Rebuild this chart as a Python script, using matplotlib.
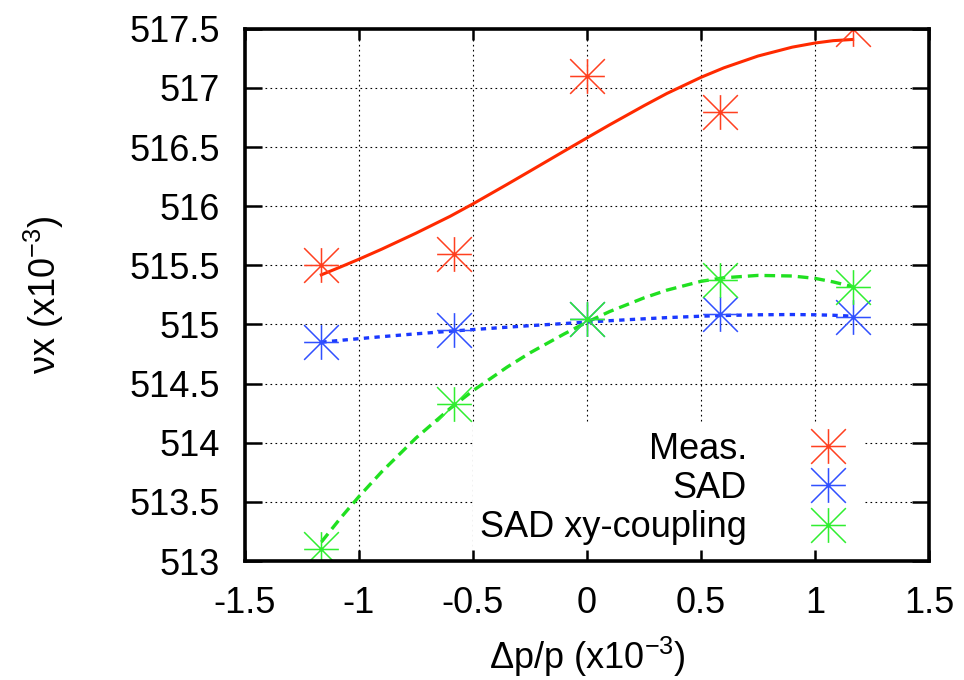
import matplotlib
matplotlib.use("Agg")
import matplotlib.pyplot as plt
from matplotlib.path import Path

plt.rcParams["font.family"] = ["Liberation Sans", "DejaVu Sans"]
plt.rcParams["mathtext.default"] = "regular"

# -----------------------------
# Data
# -----------------------------
dp = [-1.165, -0.582, 0.0, 0.582, 1.165]
meas = [515.50, 515.60, 517.10, 516.80, 517.50]
sad = [514.85, 514.95, 515.05, 515.09, 515.06]
sad_xy = [513.10, 514.33, 515.05, 515.38, 515.32]

# fitted curves
fit_x = [-1.165, -1.08, -1.0, -0.9, -0.75, -0.6, -0.5, -0.35, -0.25, -0.1, 0.0,
         0.1, 0.25, 0.35, 0.5, 0.6, 0.75, 0.9, 1.0, 1.08, 1.165]
meas_fit = [515.420, 515.487, 515.552, 515.637, 515.772, 515.915, 516.020, 516.185,
            516.297, 516.466, 516.578, 516.689, 516.850, 516.953, 517.090, 517.170,
            517.270, 517.345, 517.380, 517.400, 517.410]
sad_fit = [514.850, 514.866, 514.880, 514.897, 514.921, 514.943, 514.957, 514.977,
           514.990, 515.008, 515.020, 515.032, 515.048, 515.058, 515.070, 515.076,
           515.082, 515.084, 515.082, 515.078, 515.070]
sad_xy_fit = [513.160, 513.365, 513.545, 513.755, 514.040, 514.290, 514.440, 514.640,
              514.760, 514.920, 515.020, 515.110, 515.225, 515.290, 515.365, 515.395,
              515.415, 515.410, 515.390, 515.360, 515.320]

x_ticks = [-1.5, -1.0, -0.5, 0.0, 0.5, 1.0, 1.5]
x_ticklabels = ["-1.5", "-1", "-0.5", "0", "0.5", "1", "1.5"]
y_ticks = [513, 513.5, 514, 514.5, 515, 515.5, 516, 516.5, 517, 517.5]
y_ticklabels = ["513", "513.5", "514", "514.5", "515", "515.5", "516", "516.5", "517", "517.5"]

# gnuplot style point: "+" overlaid with "x"
star = Path(
    [(-1, 0), (1, 0), (0, -1), (0, 1), (-1, -1), (1, 1), (-1, 1), (1, -1)],
    [Path.MOVETO, Path.LINETO] * 4,
)

red_pt, red_ln = "#ff4020", "#ff2a00"
blue_pt, blue_ln = "#3050ff", "#1a38ff"
green_pt, green_ln = "#30ee30", "#20e020"

# -----------------------------
# Plot
# -----------------------------
fig = plt.figure(figsize=(9.64, 6.8), dpi=100)
ax = fig.add_axes([0.2541, 0.175, 0.7096, 0.7826])

for xv in x_ticks[1:-1]:
    ax.axvline(xv, color="black", lw=0.8, ls=(0, (1.5, 3)), zorder=0.5)
for yv in y_ticks[1:-1]:
    ax.axhline(yv, color="black", lw=0.8, ls=(0, (1.5, 3)), zorder=0.5)

ax.plot(fit_x, meas_fit, color=red_ln, lw=2.2, zorder=3)
ax.plot(fit_x, sad_fit, color=blue_ln, lw=2.4, ls=(0, (1.6, 1.6)), zorder=3)
ax.plot(fit_x, sad_xy_fit, color=green_ln, lw=2.4, ls=(0, (3.2, 1.8)), zorder=3)

ax.plot(dp, meas, ls="none", marker=star, ms=25, mew=1.1, color=red_pt,
        label="Meas.", zorder=4)
ax.plot(dp, sad, ls="none", marker=star, ms=25, mew=1.1, color=blue_pt,
        label="SAD", zorder=4)
ax.plot(dp, sad_xy, ls="none", marker=star, ms=25, mew=1.1, color=green_pt,
        label="SAD xy-coupling", zorder=4)

ax.set_xlim(-1.5, 1.5)
ax.set_ylim(513, 517.5)
ax.set_xticks(x_ticks)
ax.set_xticklabels(x_ticklabels)
ax.set_yticks(y_ticks)
ax.set_yticklabels(y_ticklabels)
ax.set_axisbelow(False)
ax.tick_params(axis="both", direction="in", top=True, right=True,
               labelsize=26, width=1.8, pad=18)
ax.tick_params(axis="x", length=8)
ax.tick_params(axis="y", length=12)
for sp in ax.spines.values():
    sp.set_linewidth(2.6)
    sp.set_zorder(5)

ax.set_xlabel("Δp/p (x10$^{-3}$)", fontsize=26)
ax.set_ylabel("νx (x10$^{-3}$)", fontsize=26)
ax.xaxis.set_label_coords(0.5, -0.138)
ax.yaxis.set_label_coords(-0.262, 0.5)

leg = ax.legend(
    loc="lower right",
    bbox_to_anchor=(0.903, 0.016),
    fontsize=26,
    markerfirst=False,
    frameon=True,
    framealpha=1,
    edgecolor="none",
    facecolor="white",
    fancybox=False,
    borderpad=0.2,
    borderaxespad=0,
    labelspacing=0.12,
    handlelength=1.5,
    handletextpad=1.5,
)
leg.set_zorder(1)
for col in leg._legend_handle_box.get_children():
    col.align = "right"

fig.savefig("out.png", dpi=100)
